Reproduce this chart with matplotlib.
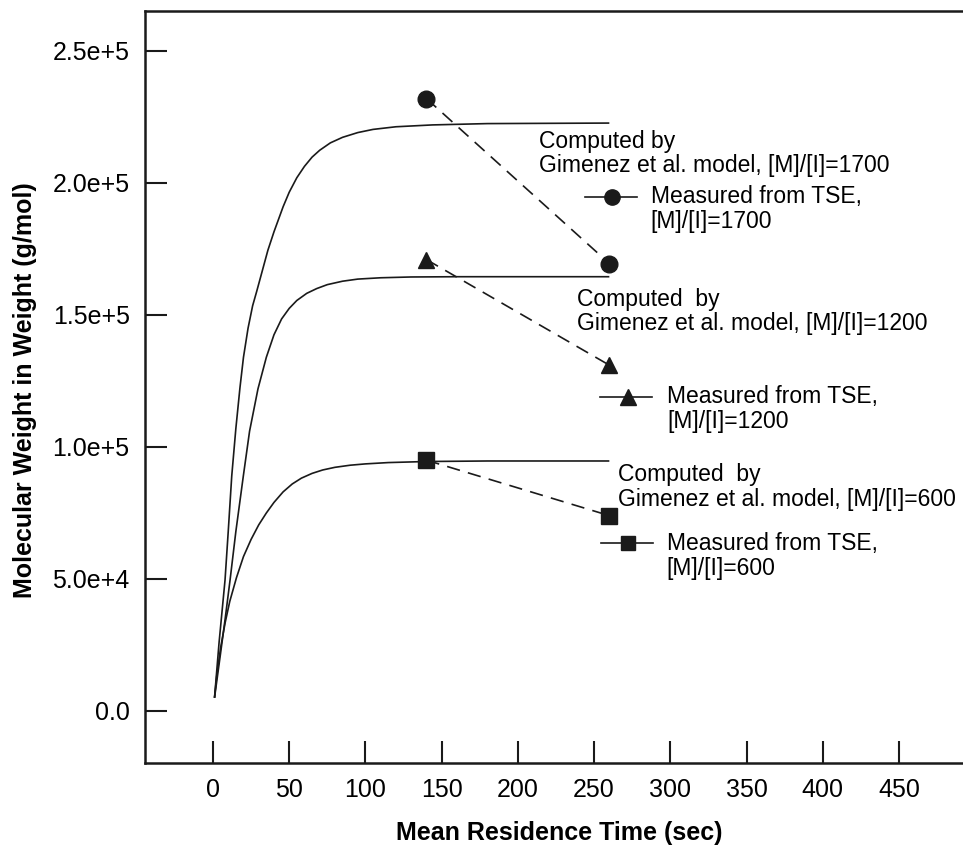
import matplotlib.pyplot as plt
from matplotlib.ticker import FixedLocator, FuncFormatter

plt.rcParams['font.family'] = ['Liberation Sans', 'DejaVu Sans']

# model curves (Gimenez et al.)
t_1700 = [1, 4, 7.9, 10, 12.3, 15, 17.7, 20, 23, 26, 28.7, 32, 36, 40, 46, 50, 55,
          60, 65, 70, 77, 85, 95, 105, 120, 144, 180, 260]
mw_1700 = [5000, 26000, 49600, 68000, 89000, 107000, 122500, 134000, 145000, 153500,
           159000, 166000, 174500, 181500, 191000, 196500, 202000, 206300, 209800,
           212400, 215200, 217300, 219100, 220300, 221300, 222000, 222500, 222700]

t_1200 = [1, 5, 8, 11.2, 15, 19.9, 24, 29.5, 35, 40, 45, 50, 55, 61.5, 68, 75, 85,
          95, 110, 130, 160, 260]
mw_1200 = [5000, 22000, 35000, 49600, 68000, 89000, 106000, 122000, 134000, 142500,
           148500, 152500, 155500, 158200, 160000, 161500, 162800, 163600, 164100,
           164400, 164500, 164500]

t_600 = [1, 2.4, 5, 8, 11, 15.4, 20, 25, 30, 35, 40, 46, 52, 58, 65, 72, 80, 90,
         100, 115, 140, 180, 260]
mw_600 = [5000, 13000, 24000, 33500, 41500, 50500, 58500, 65000, 70500, 75000,
          79000, 83000, 86000, 88200, 90000, 91300, 92300, 93100, 93600, 94100,
          94500, 94700, 94700]

# measured from TSE
t_meas = [140, 260]
mw_meas_1700 = [232000, 169500]
mw_meas_1200 = [171000, 131000]
mw_meas_600 = [95000, 74000]

x_ticks = [0, 50, 100, 150, 200, 250, 300, 350, 400, 450]
y_ticks = [0, 50000, 100000, 150000, 200000, 250000]
y_labels = ['0.0', '5.0e+4', '1.0e+5', '1.5e+5', '2.0e+5', '2.5e+5']

W, H = 963, 847
fig = plt.figure(figsize=(W / 100, H / 100), dpi=100)
ax = fig.add_axes([145 / W, (H - 763) / H, (W - 145) / W, (763 - 11) / H])

ink = '#1a1a1a'
lw = 1.2
for t, mw in [(t_1700, mw_1700), (t_1200, mw_1200), (t_600, mw_600)]:
    ax.plot(t, mw, color=ink, lw=lw, solid_capstyle='butt', solid_joinstyle='round')

dash = (0, (8, 5))
for mw, mk, ms in [(mw_meas_1700, 'o', 12), (mw_meas_1200, '^', 12), (mw_meas_600, 's', 11)]:
    ax.plot(t_meas, mw, color=ink, lw=lw, linestyle=dash,
            marker=mk, markersize=ms, markerfacecolor=ink, markeredgecolor=ink)

# annotations for the computed curves
fs = 16.5
ax.text(213.9, 215600, 'Computed by', fontsize=fs, va='center', ha='left')
ax.text(213.9, 206600, 'Gimenez et al. model, [M]/[I]=1700', fontsize=fs, va='center', ha='left')
ax.text(239.0, 155700, 'Computed  by', fontsize=fs, va='center', ha='left')
ax.text(239.0, 146600, 'Gimenez et al. model, [M]/[I]=1200', fontsize=fs, va='center', ha='left')
ax.text(265.9, 89700, 'Computed  by', fontsize=fs, va='center', ha='left')
ax.text(265.9, 80300, 'Gimenez et al. model, [M]/[I]=600', fontsize=fs, va='center', ha='left')

# keys for the measured series
keys = [
    (244.1, 278.2, 261.6, 194800, 'o', 11, 287.2, 185300, '[M]/[I]=1700'),
    (253.7, 288.0, 272.5, 119100, '^', 11, 298.1, 109600, '[M]/[I]=1200'),
    (254.4, 288.9, 272.5, 63500, 's', 10, 297.7, 54100, '[M]/[I]=600'),
]
for x0, x1, xm, y, mk, ms, xt, y2, lab in keys:
    ax.plot([x0, x1], [y, y], color=ink, lw=lw)
    ax.plot([xm], [y], marker=mk, markersize=ms, color=ink)
    ax.text(xt, y, 'Measured from TSE,', fontsize=fs, va='center', ha='left')
    ax.text(xt, y2, lab, fontsize=fs, va='center', ha='left')

ax.set_xlim(-44.6, 492)
ax.set_ylim(-19700, 265150)
ax.xaxis.set_major_locator(FixedLocator(x_ticks))
ax.yaxis.set_major_locator(FixedLocator(y_ticks))
ax.yaxis.set_major_formatter(FuncFormatter(lambda v, p: y_labels[y_ticks.index(int(round(v)))]))
ax.tick_params(direction='in', length=16, width=1.5, labelsize=18, color=ink)
ax.tick_params(axis='x', pad=11)
ax.tick_params(axis='y', pad=11)
ax.spines['right'].set_visible(False)
for s in ['left', 'bottom', 'top']:
    ax.spines[s].set_linewidth(1.8)
    ax.spines[s].set_color(ink)

fig.text(559 / W, 1 - 833 / H, 'Mean Residence Time (sec)', fontsize=18,
         fontweight='bold', ha='center', va='center')
fig.text(25 / W, 1 - 390 / H, 'Molecular Weight in Weight (g/mol)', fontsize=18,
         fontweight='bold', ha='center', va='center', rotation=90)

fig.savefig('out.png', dpi=100)
